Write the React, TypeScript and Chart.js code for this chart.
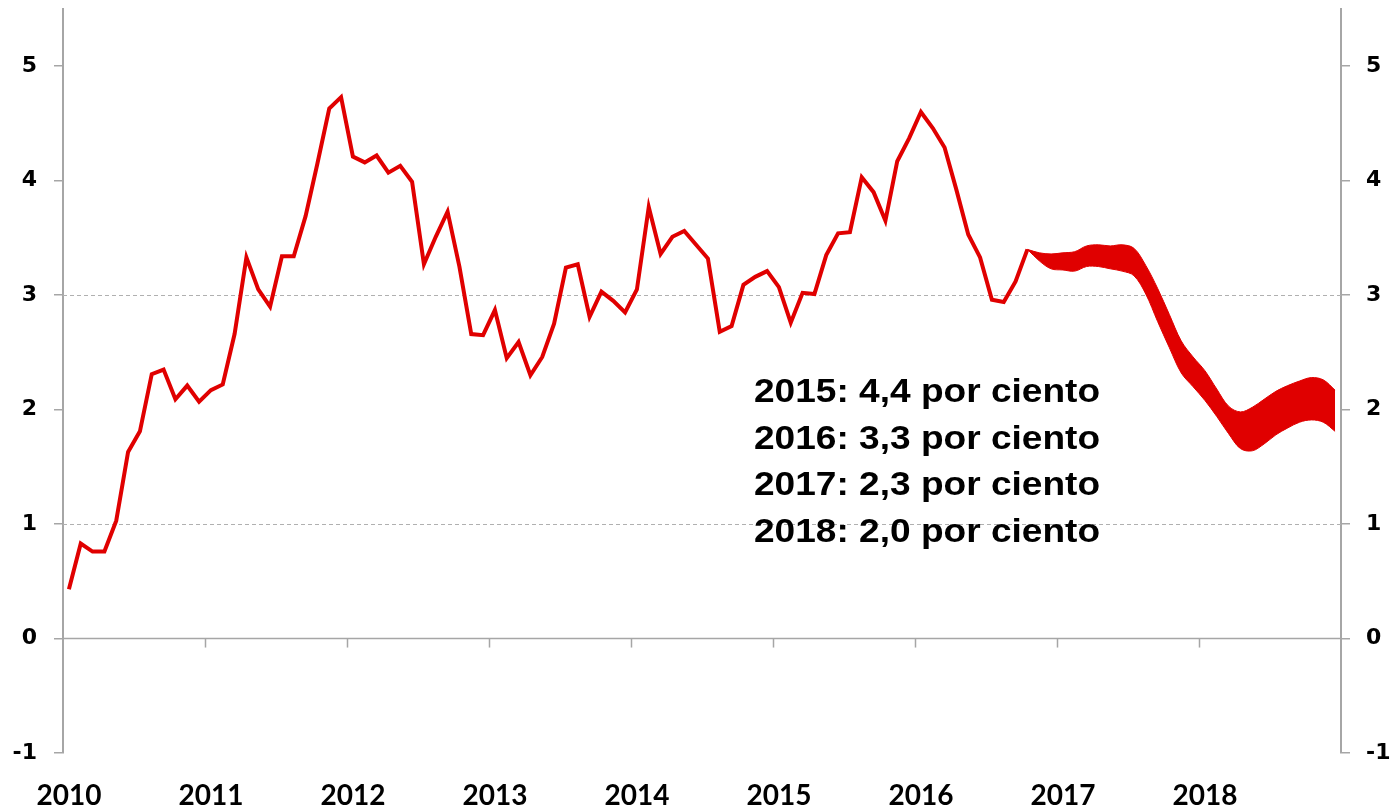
import React, { useEffect, useRef } from 'react';
import { Chart, registerables } from 'chart.js';

Chart.register(...registerables);

// ---- Data (monthly, Jan 2010 – Dec 2018) ----
const years = ['2010', '2011', '2012', '2013', '2014', '2015', '2016', '2017', '2018'];

// Observed inflation (Jan 2010 – Oct 2016), percent
const history = [
  0.43, 0.83, 0.76, 0.76, 1.03, 1.63, 1.81, 2.31, 2.35, 2.09, 2.21, 2.07,
  2.17, 2.22, 2.66, 3.33, 3.05, 2.90, 3.34, 3.34, 3.69, 4.15, 4.63, 4.73,
  4.21, 4.16, 4.22, 4.07, 4.13, 3.99, 3.27, 3.51, 3.73, 3.25, 2.66, 2.65,
  2.87, 2.45, 2.59, 2.30, 2.46, 2.75, 3.24, 3.27, 2.81, 3.03, 2.95, 2.85,
  3.05, 3.77, 3.36, 3.51, 3.56, 3.44, 3.32, 2.68, 2.73, 3.09, 3.16, 3.21,
  3.07, 2.76, 3.02, 3.01, 3.35, 3.54, 3.55, 4.03, 3.90, 3.65, 4.17, 4.37,
  4.60, 4.46, 4.29, 3.92, 3.53, 3.33, 2.96, 2.94, 3.12, 3.40,
];

// Forecast band (starts at index 81 = Oct 2016)
const fanStart = 81;
const fanUpper = [
  3.40, 3.37, 3.36, 3.37, 3.38, 3.43, 3.44, 3.43, 3.44, 3.41, 3.26, 3.06,
  2.83, 2.60, 2.46, 2.34, 2.18, 2.03, 1.98, 2.02, 2.09, 2.16, 2.21, 2.25,
  2.28, 2.26, 2.17,
];
const fanLower = [
  3.40, 3.30, 3.23, 3.22, 3.21, 3.25, 3.25, 3.23, 3.21, 3.17, 3.01, 2.77,
  2.54, 2.32, 2.20, 2.08, 1.94, 1.79, 1.66, 1.64, 1.70, 1.78, 1.84, 1.89,
  1.91, 1.89, 1.81,
];

const yTicks = [-1, 0, 1, 2, 3, 4, 5];
const dashedGrid = [1, 3];

const annotationLines = [
  '2015: 4,4 por ciento',
  '2016: 3,3 por ciento',
  '2017: 2,3 por ciento',
  '2018: 2,0 por ciento',
];

const RED = 'rgb(224,0,0)';
const AXIS_GRAY = '#a6a6a6';

export default function App() {
  const canvasRef = useRef<HTMLCanvasElement>(null);

  useEffect(() => {
    const canvas = canvasRef.current;
    if (!canvas) return;

    const labels = years.flatMap((y) =>
      Array.from({ length: 12 }, (_, m) => `${y}-${String(m + 1).padStart(2, '0')}`)
    );
    const histData = labels.map((_, i) => (i < history.length ? history[i] : null));
    const upperData = labels.map((_, i) =>
      i >= fanStart && i < fanStart + fanUpper.length ? fanUpper[i - fanStart] : null
    );
    const lowerData = labels.map((_, i) =>
      i >= fanStart && i < fanStart + fanLower.length ? fanLower[i - fanStart] : null
    );

    const gridPlugin = {
      id: 'customGrid',
      beforeDatasetsDraw(chart: any) {
        const { ctx, chartArea, scales } = chart;
        const y = scales.y;
        const x = scales.x;
        ctx.save();
        // dashed reference lines
        ctx.strokeStyle = '#b0b0b0';
        ctx.lineWidth = 1;
        ctx.setLineDash([4, 3]);
        dashedGrid.forEach((v) => {
          const py = Math.round(y.getPixelForValue(v)) + 0.5;
          ctx.beginPath();
          ctx.moveTo(chartArea.left, py);
          ctx.lineTo(chartArea.right, py);
          ctx.stroke();
        });
        ctx.setLineDash([]);
        // zero line
        ctx.strokeStyle = AXIS_GRAY;
        ctx.lineWidth = 1.5;
        const y0 = y.getPixelForValue(0);
        ctx.beginPath();
        ctx.moveTo(chartArea.left, y0);
        ctx.lineTo(chartArea.right, y0);
        ctx.stroke();
        // year boundary tick marks on the zero line
        for (let k = 1; k < years.length; k++) {
          const i = k * 12;
          const px = Math.round((x.getPixelForValue(i - 1) + x.getPixelForValue(i)) / 2) + 0.5;
          ctx.beginPath();
          ctx.moveTo(px, y0);
          ctx.lineTo(px, y0 + 9);
          ctx.stroke();
        }
        ctx.restore();
      },
    };

    const yTickFont = { family: '"DejaVu Sans", Verdana, sans-serif', weight: 'bold' as const, size: 22, lineHeight: 1 };

    const fitY = (width: number) => (s: any) => {
      s.width = width;
      s.paddingTop = 0;
      s.paddingBottom = 0;
    };

    const chart = new Chart(canvas, {
      type: 'line',
      data: {
        labels,
        datasets: [
          {
            label: 'Inflación',
            data: histData,
            borderColor: RED,
            borderWidth: 4,
            pointRadius: 0,
            tension: 0,
            fill: false,
          },
          {
            label: 'Banda superior',
            data: upperData,
            borderColor: RED,
            backgroundColor: RED,
            borderWidth: 1,
            pointRadius: 0,
            tension: 0.35,
            fill: '+1',
          },
          {
            label: 'Banda inferior',
            data: lowerData,
            borderColor: RED,
            backgroundColor: RED,
            borderWidth: 1,
            pointRadius: 0,
            tension: 0.35,
            fill: false,
          },
        ],
      },
      options: {
        responsive: false,
        animation: false,
        devicePixelRatio: 1,
        layout: { padding: { top: 9, left: 0, right: 0, bottom: 0 } },
        plugins: { legend: { display: false }, tooltip: { enabled: false } },
        scales: {
          x: {
            type: 'category',
            offset: true,
            grid: { display: false },
            border: { display: false },
            ticks: {
              autoSkip: false,
              maxRotation: 0,
              minRotation: 0,
              padding: 18,
              color: '#000',
              font: { family: 'Lato, sans-serif', weight: 'bold', size: 28 },
              callback: (_v: any, i: number) => (i % 12 === 0 ? years[i / 12] : ''),
            },
            afterFit: (s: any) => {
              s.height = 55;
            },
          },
          y: {
            position: 'left',
            min: -1,
            max: 5.5,
            afterBuildTicks: (s: any) => {
              s.ticks = yTicks.map((v) => ({ value: v }));
            },
            afterFit: fitY(63),
            grid: { drawOnChartArea: false, drawTicks: true, tickLength: 9, color: AXIS_GRAY, lineWidth: 1.5 },
            border: { display: true, color: AXIS_GRAY, width: 2 },
            ticks: { padding: 17, color: '#000', font: yTickFont, callback: (v: any) => String(v) },
          },
          y2: {
            position: 'right',
            min: -1,
            max: 5.5,
            afterBuildTicks: (s: any) => {
              s.ticks = yTicks.map((v) => ({ value: v }));
            },
            afterFit: fitY(52),
            grid: { drawOnChartArea: false, drawTicks: true, tickLength: 9, color: AXIS_GRAY, lineWidth: 1.5 },
            border: { display: true, color: AXIS_GRAY, width: 2 },
            ticks: { padding: 16, color: '#000', font: yTickFont, callback: (v: any) => String(v) },
          },
        },
      },
      plugins: [gridPlugin],
    });

    return () => chart.destroy();
  }, []);

  return (
    <div style={{ position: 'absolute', left: 0, top: 0, width: 1393, height: 808, background: '#fff' }}>
      <canvas ref={canvasRef} width={1393} height={808} style={{ display: 'block' }} />
      <div
        style={{
          position: 'absolute',
          left: 754,
          top: 367,
          fontFamily: '"Liberation Sans", Arial, sans-serif',
          fontWeight: 'bold',
          fontSize: 34,
          lineHeight: '46.5px',
          color: '#000',
          transform: 'scaleX(1.09)',
          transformOrigin: 'left top',
          whiteSpace: 'nowrap',
        }}
      >
        {annotationLines.map((l) => (
          <div key={l}>{l}</div>
        ))}
      </div>
    </div>
  );
}
